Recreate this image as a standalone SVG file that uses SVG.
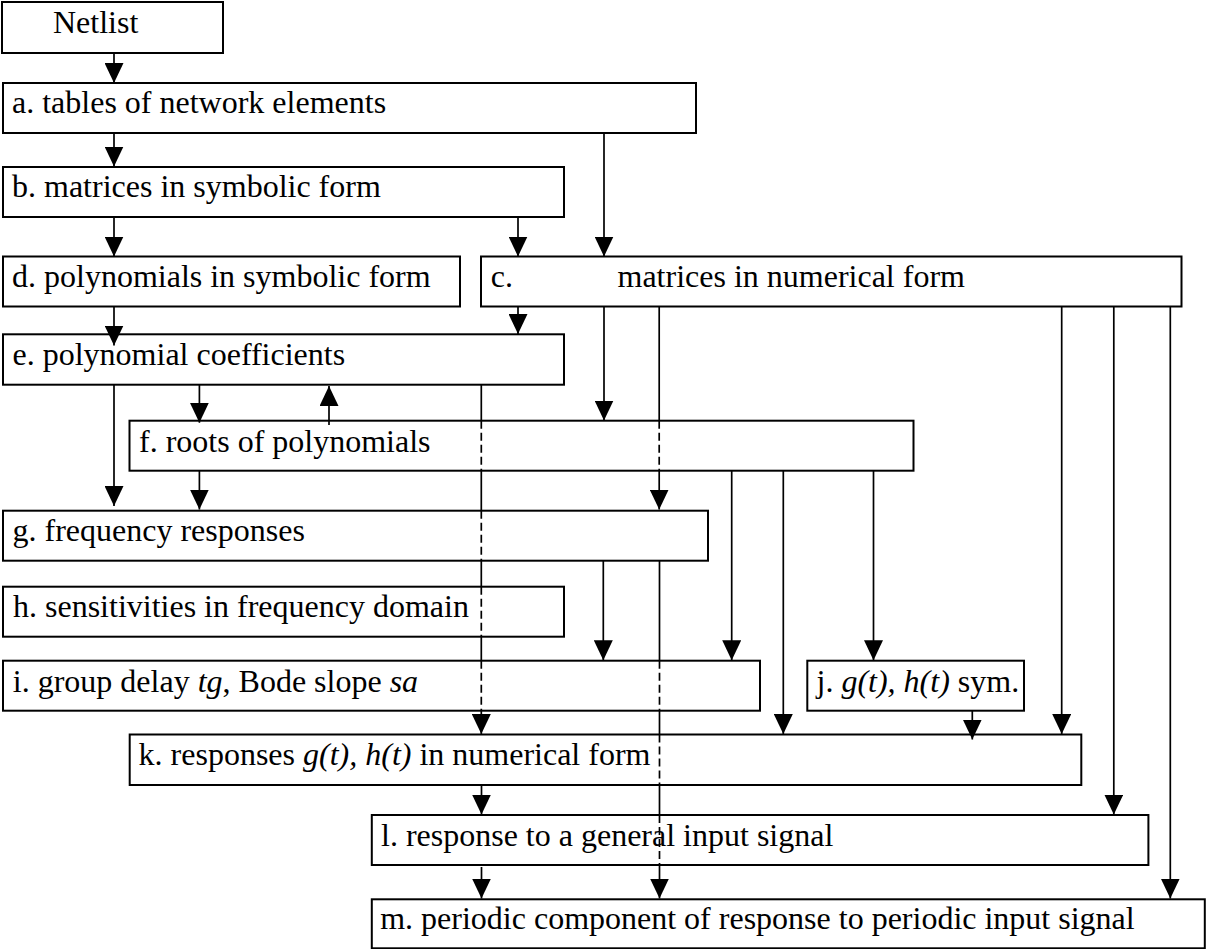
<svg xmlns="http://www.w3.org/2000/svg" width="1207" height="949" viewBox="0 0 1207 949">
<defs>
<style>
.box{fill:#fff;stroke:#000;stroke-width:2}
.t{font-family:"Liberation Serif","Times New Roman",serif;font-size:32px;fill:#000}
.it{font-style:italic}
.c{fill:none;stroke:#000;stroke-width:1.7}
.d{fill:none;stroke:#000;stroke-width:1.7;stroke-dasharray:8 4}
</style>
<marker id="ah" markerUnits="userSpaceOnUse" markerWidth="20" markerHeight="19" viewBox="0 0 20 19" refX="20" refY="9.5" orient="auto">
<path d="M0,0 L20,9.5 L0,19 z" fill="#000"/>
</marker>
</defs>
<rect width="1207" height="949" fill="#fff"/>

<g id="nodes">
<g id="netlist"><rect class="box" x="2" y="2" width="221" height="51"/><text class="t" x="53" y="32.5">Netlist</text></g>
<g id="a"><rect class="box" x="3" y="83" width="693" height="50"/><text class="t" x="12" y="113">a. tables of network elements</text></g>
<g id="b"><rect class="box" x="3" y="167" width="561" height="50"/><text class="t" x="12" y="197">b. matrices in symbolic form</text></g>
<g id="d"><rect class="box" x="3" y="256.5" width="457" height="50"/><text class="t" x="12" y="287">d. polynomials in symbolic form</text></g>
<g id="c"><rect class="box" x="481" y="256.5" width="700.5" height="50"/><text class="t" x="490.8" y="287">c.</text><text class="t" x="617.5" y="287">matrices in numerical form</text></g>
<g id="e"><rect class="box" x="3" y="334.3" width="561" height="50.4"/><text class="t" x="12.5" y="364.5">e. polynomial coefficients</text></g>
<g id="f"><rect class="box" x="129.5" y="420.7" width="784" height="50"/><text class="t" x="139" y="451.5">f. roots of polynomials</text></g>
<g id="g"><rect class="box" x="3" y="510.7" width="705" height="50"/><text class="t" x="12.5" y="540.5">g. frequency responses</text></g>
<g id="h"><rect class="box" x="3" y="586.7" width="561" height="50"/><text class="t" x="13" y="617">h. sensitivities in frequency domain</text></g>
<g id="i"><rect class="box" x="3" y="660.7" width="757" height="50"/><text class="t" x="12.8" y="691.5">i. group delay <tspan class="it">tg</tspan>, Bode slope <tspan class="it">sa</tspan></text></g>
<g id="j"><rect class="box" x="807.3" y="660.7" width="216.7" height="50"/><text class="t" x="816.5" y="691.5">j. <tspan class="it">g(t), h(t)</tspan> sym.</text></g>
<g id="k"><rect class="box" x="129.7" y="734.5" width="951.6" height="50.5"/><text class="t" x="138.6" y="764.5">k. responses <tspan class="it">g(t), h(t)</tspan> in numerical form</text></g>
<g id="l"><rect class="box" x="371.8" y="815" width="776.6" height="50"/><text class="t" x="381" y="845.5">l. response to a general input signal</text></g>
<g id="m"><rect class="box" x="371.8" y="899.3" width="833" height="49"/><text class="t" x="380.2" y="929">m. periodic component of response to periodic input signal</text></g>
</g>

<g id="connectors">
<line class="c" x1="114" y1="53" x2="114" y2="83" marker-end="url(#ah)"/>
<line class="c" x1="114" y1="133" x2="114" y2="166.5" marker-end="url(#ah)"/>
<line class="c" x1="604" y1="133" x2="604" y2="256.5" marker-end="url(#ah)"/>
<line class="c" x1="518" y1="217" x2="518" y2="256.5" marker-end="url(#ah)"/>
<line class="c" x1="114" y1="217" x2="114" y2="256.5" marker-end="url(#ah)"/>
<line class="c" x1="114" y1="306.5" x2="114" y2="345.5" marker-end="url(#ah)"/>
<line class="c" x1="518" y1="306.5" x2="518" y2="334" marker-end="url(#ah)"/>
<line class="c" x1="114" y1="384.7" x2="114" y2="506" marker-end="url(#ah)"/>
<line class="c" x1="199.4" y1="384.7" x2="199.4" y2="422.7" marker-end="url(#ah)"/>
<line class="c" x1="329" y1="425" x2="329" y2="386" marker-end="url(#ah)"/>
<line class="c" x1="199.4" y1="470.7" x2="199.4" y2="509.5" marker-end="url(#ah)"/>
<!-- e to k -->
<path class="c" d="M481.3,384.7 V420.7 M481.3,470.7 V510.7 M481.3,560.7 V586.7 M481.3,636.7 V660.7"/>
<path class="d" d="M481.3,420.7 V470.7 M481.3,510.7 V560.7 M481.3,586.7 V636.7 M481.3,660.7 V710.7"/>
<line class="c" x1="481.3" y1="710.7" x2="481.3" y2="734" marker-end="url(#ah)"/>
<!-- c to f -->
<line class="c" x1="604" y1="306.5" x2="604" y2="420.5" marker-end="url(#ah)"/>
<!-- c to g -->
<path class="c" d="M659.2,306.5 V420.7"/>
<path class="d" d="M659.2,420.7 V470.7"/>
<line class="c" x1="659.2" y1="470.7" x2="659.2" y2="509.5" marker-end="url(#ah)"/>
<!-- g to m -->
<path class="c" d="M659.5,560.7 V660.7 M659.5,710.7 V734.5 M659.5,785 V815"/>
<path class="d" d="M659.5,660.7 V710.7 M659.5,734.5 V785 M659.5,815 V865"/>
<line class="c" x1="659.5" y1="865" x2="659.5" y2="898.5" marker-end="url(#ah)"/>
<!-- g to i -->
<line class="c" x1="603.3" y1="560.7" x2="603.3" y2="660.3" marker-end="url(#ah)"/>
<!-- f to i, k, j -->
<line class="c" x1="731.7" y1="470.7" x2="731.7" y2="660.3" marker-end="url(#ah)"/>
<line class="c" x1="783.3" y1="470.7" x2="783.3" y2="734" marker-end="url(#ah)"/>
<line class="c" x1="873.5" y1="470.7" x2="873.5" y2="660.3" marker-end="url(#ah)"/>
<!-- j to k -->
<line class="c" x1="972.3" y1="710.7" x2="972.3" y2="739.5" marker-end="url(#ah)"/>
<!-- c to k, l, m -->
<line class="c" x1="1061.7" y1="306.5" x2="1061.7" y2="734" marker-end="url(#ah)"/>
<line class="c" x1="1113.8" y1="306.5" x2="1113.8" y2="814.5" marker-end="url(#ah)"/>
<line class="c" x1="1170.3" y1="306.5" x2="1170.3" y2="898.5" marker-end="url(#ah)"/>
<!-- k to l, l to m -->
<line class="c" x1="481.5" y1="785" x2="481.5" y2="814.5" marker-end="url(#ah)"/>
<line class="c" x1="481.5" y1="867" x2="481.5" y2="898.5" marker-end="url(#ah)"/>
</g>
</svg>
